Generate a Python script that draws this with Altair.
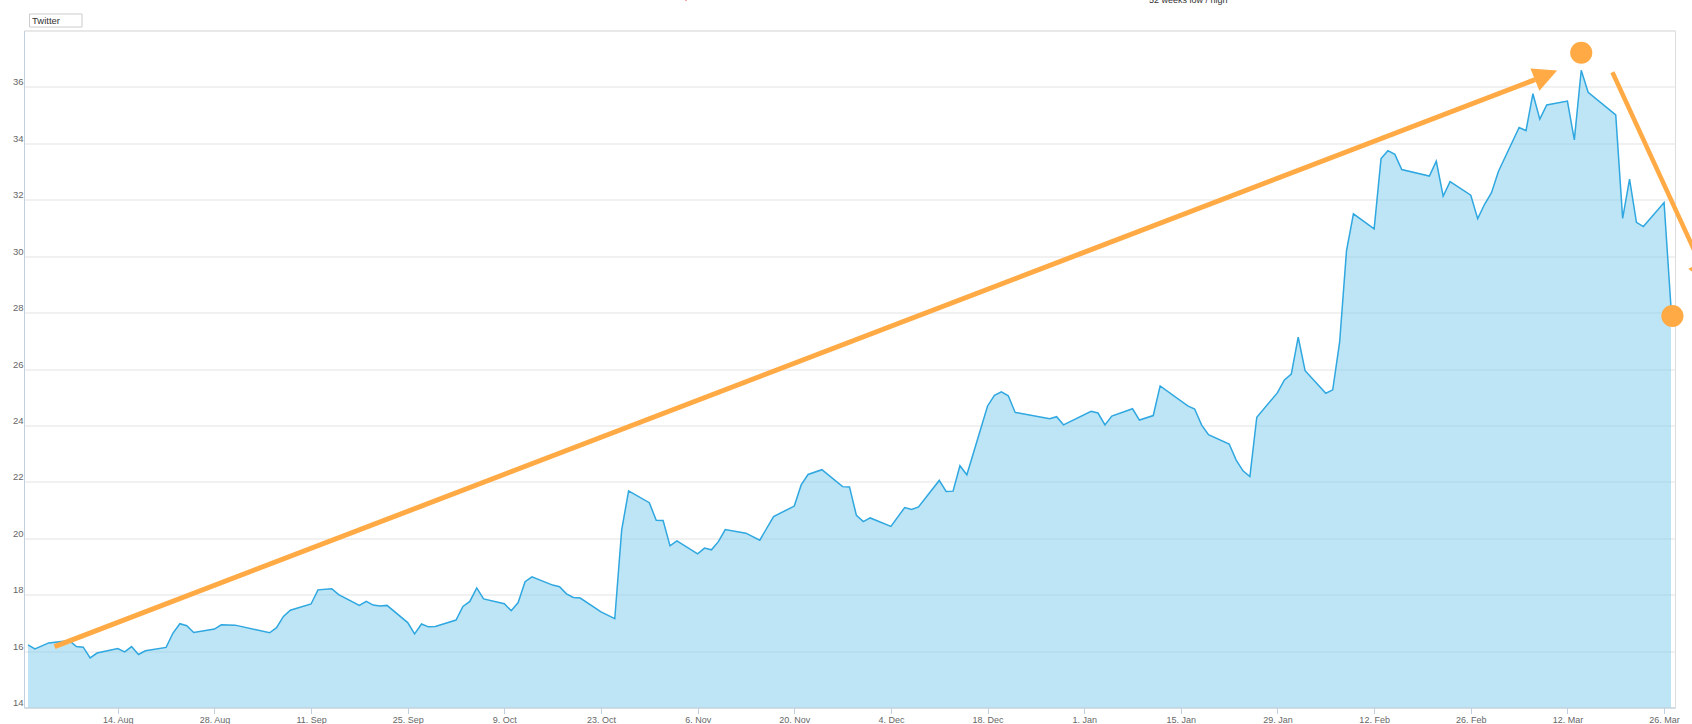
import altair as alt
import pandas as pd

# ---- data (Twitter share price) ----
dates = [
    "2017-08-01", "2017-08-02", "2017-08-04", "2017-08-07", "2017-08-08", "2017-08-09",
    "2017-08-10", "2017-08-11", "2017-08-14", "2017-08-15", "2017-08-16", "2017-08-17",
    "2017-08-18", "2017-08-21", "2017-08-22", "2017-08-23", "2017-08-24", "2017-08-25",
    "2017-08-28", "2017-08-29", "2017-08-31", "2017-09-05", "2017-09-06", "2017-09-07",
    "2017-09-08", "2017-09-11", "2017-09-12", "2017-09-14", "2017-09-15", "2017-09-18",
    "2017-09-19", "2017-09-20", "2017-09-21", "2017-09-22", "2017-09-25", "2017-09-26",
    "2017-09-27", "2017-09-28", "2017-09-29", "2017-10-02", "2017-10-03", "2017-10-04",
    "2017-10-05", "2017-10-06", "2017-10-09", "2017-10-10", "2017-10-11", "2017-10-12",
    "2017-10-13", "2017-10-16", "2017-10-17", "2017-10-18", "2017-10-19", "2017-10-20",
    "2017-10-23", "2017-10-25", "2017-10-26", "2017-10-27", "2017-10-30", "2017-10-31",
    "2017-11-01", "2017-11-02", "2017-11-03", "2017-11-06", "2017-11-07", "2017-11-08",
    "2017-11-09", "2017-11-10", "2017-11-13", "2017-11-15", "2017-11-17", "2017-11-20",
    "2017-11-21", "2017-11-22", "2017-11-24", "2017-11-27", "2017-11-28", "2017-11-29",
    "2017-11-30", "2017-12-01", "2017-12-04", "2017-12-06", "2017-12-07", "2017-12-08",
    "2017-12-11", "2017-12-12", "2017-12-13", "2017-12-14", "2017-12-15", "2017-12-18",
    "2017-12-19", "2017-12-20", "2017-12-21", "2017-12-22", "2017-12-27", "2017-12-28",
    "2017-12-29", "2018-01-02", "2018-01-03", "2018-01-04", "2018-01-05", "2018-01-08",
    "2018-01-09", "2018-01-11", "2018-01-12", "2018-01-16", "2018-01-17", "2018-01-18",
    "2018-01-19", "2018-01-22", "2018-01-23", "2018-01-24", "2018-01-25", "2018-01-26",
    "2018-01-29", "2018-01-30", "2018-01-31", "2018-02-01", "2018-02-02", "2018-02-05",
    "2018-02-06", "2018-02-07", "2018-02-08", "2018-02-09", "2018-02-12", "2018-02-13",
    "2018-02-14", "2018-02-15", "2018-02-16", "2018-02-20", "2018-02-21", "2018-02-22",
    "2018-02-23", "2018-02-26", "2018-02-27", "2018-02-28", "2018-03-01", "2018-03-02",
    "2018-03-05", "2018-03-06", "2018-03-07", "2018-03-08", "2018-03-09", "2018-03-12",
    "2018-03-13", "2018-03-14", "2018-03-15", "2018-03-19", "2018-03-20", "2018-03-21",
    "2018-03-22", "2018-03-23", "2018-03-26", "2018-03-27",
]
price = [
    16.22, 16.08, 16.29, 16.37, 16.16, 16.14,
    15.76, 15.93, 16.09, 15.97, 16.16, 15.88,
    16.01, 16.13, 16.64, 16.97, 16.90, 16.66,
    16.78, 16.93, 16.92, 16.65, 16.83, 17.23,
    17.45, 17.67, 18.17, 18.21, 18.00, 17.62,
    17.76, 17.63, 17.60, 17.62, 17.01, 16.61,
    16.96, 16.86, 16.87, 17.10, 17.58, 17.76,
    18.24, 17.85, 17.68, 17.43, 17.72, 18.46,
    18.63, 18.34, 18.28, 18.03, 17.90, 17.88,
    17.39, 17.15, 20.30, 21.68, 21.26, 20.64,
    20.63, 19.73, 19.91, 19.45, 19.65, 19.59,
    19.88, 20.31, 20.18, 19.93, 20.77, 21.14,
    21.89, 22.26, 22.43, 21.83, 21.82, 20.81,
    20.59, 20.72, 20.42, 21.09, 21.02, 21.11,
    22.05, 21.66, 21.67, 22.57, 22.25, 24.69,
    25.07, 25.19, 25.05, 24.46, 24.24, 24.31,
    24.02, 24.50, 24.44, 24.02, 24.33, 24.59,
    24.19, 24.35, 25.40, 24.69, 24.58, 24.02,
    23.67, 23.34, 22.78, 22.39, 22.19, 24.29,
    25.16, 25.61, 25.82, 27.13, 25.94, 25.14,
    25.26, 26.95, 30.20, 31.50, 30.97, 33.46,
    33.74, 33.61, 33.07, 32.84, 33.37, 32.13,
    32.64, 32.16, 31.33, 31.84, 32.25, 33.00,
    34.56, 34.45, 35.76, 34.86, 35.36, 35.50,
    34.12, 36.59, 35.81, 35.01, 31.34, 32.73,
    31.20, 31.05, 31.90, 28.20,
]

x_tick_dates = [
    "2017-08-14", "2017-08-28", "2017-09-11", "2017-09-25", "2017-10-09", "2017-10-23",
    "2017-11-06", "2017-11-20", "2017-12-04", "2017-12-18", "2018-01-01", "2018-01-15",
    "2018-01-29", "2018-02-12", "2018-02-26", "2018-03-12", "2018-03-26",
]
y_ticks = [14, 16, 18, 20, 22, 24, 26, 28, 30, 32, 34, 36, 38]

legend_label = ["Twitter"]
top_label = ["52 weeks low / high"]

# hand-drawn orange annotations (in data space)
arrow_x1 = ["2017-08-04T20:10", "2018-03-18T12:29"]
arrow_y1 = [16.16, 36.52]
arrow_x2 = ["2018-03-07T07:40", "2018-03-31T08:24"]
arrow_y2 = [36.26, 29.69]
arrow_w = [5, 4.5]
head_x = ["2018-03-08T21:36", "2018-03-31T19:12"]
head_y = [36.42, 29.34]
head_angle = [338, 66]
dot_x = ["2018-03-14T00:00", "2018-03-27T05:00"]
dot_y = [37.21, 27.88]

ORANGE = "#FFAA44"
FONT = "Liberation Sans"

series = pd.DataFrame({"date": pd.to_datetime(dates), "price": price})
arrows = pd.DataFrame({
    "x1": pd.to_datetime(arrow_x1), "y1": arrow_y1,
    "x2": pd.to_datetime(arrow_x2), "y2": arrow_y2, "w": arrow_w,
})
heads = pd.DataFrame({"x": pd.to_datetime(head_x), "y": head_y, "a": head_angle})
dots = pd.DataFrame({"x": pd.to_datetime(dot_x), "y": dot_y})
legend_df = pd.DataFrame({"label": legend_label})
top_df = pd.DataFrame({"label": top_label})


def dt(s):
    y, m, d = (int(p) for p in s[:10].split("-"))
    h = int(s[11:13]) if len(s) > 10 else 0
    return alt.DateTime(year=y, month=m, date=d, hours=h)


x_scale = alt.Scale(domain=[dt("2017-07-31T10"), dt("2018-03-27T14")])
y_scale = alt.Scale(domain=[14, 38], zero=False, nice=False)

x_axis = alt.Axis(
    values=[dt(s) for s in x_tick_dates], format="%-d. %b", title=None,
    grid=False, labelFontSize=9, labelColor="#666666", labelFont=FONT,
    tickColor="#C0D0E0", tickSize=6, domainColor="#C0D0E0", labelPadding=2,
    labelFlush=False, labelOverlap=False,
)
y_axis = alt.Axis(
    values=y_ticks, title=None, labelExpr="datum.value == 38 ? '' : datum.label",
    ticks=False, tickSize=0, labelPadding=1, labelFontSize=9.5, labelFont=FONT,
    labelColor="#666666", domainColor="#C0D0E0", gridColor="#E3E3E3",
    labelBaseline="alphabetic", labelOffset=-2, labelFlush=False,
)

area = alt.Chart(series).mark_area(color="#7BCBEB", fillOpacity=0.5, clip=True).encode(
    x=alt.X("date:T", scale=x_scale, axis=x_axis),
    y=alt.Y("price:Q", scale=y_scale, axis=y_axis),
)
line = alt.Chart(series).mark_line(color="#2FA7E0", strokeWidth=1.5, clip=True).encode(
    x="date:T", y="price:Q"
)
shafts = alt.Chart(arrows).mark_rule(color=ORANGE, strokeCap="butt", clip=False).encode(
    x="x1:T", y="y1:Q", x2="x2:T", y2="y2:Q",
    strokeWidth=alt.StrokeWidth("w:Q", scale=None),
)
arrowheads = alt.Chart(heads).mark_point(
    shape="M-1,-1L1,0L-1,1Z", filled=True, size=576, color=ORANGE, opacity=1, clip=False
).encode(x="x:T", y="y:Q", angle=alt.Angle("a:Q", scale=None))
circles = alt.Chart(dots).mark_circle(size=490, color=ORANGE, opacity=1, clip=False).encode(
    x="x:T", y="y:Q"
)

legend_box = alt.Chart(legend_df).mark_rect(
    fill="white", stroke="#CCCCCC", strokeWidth=1
).encode(x=alt.value(5.5), x2=alt.value(58), y=alt.value(-16.5), y2=alt.value(-3.5))
legend_text = alt.Chart(legend_df).mark_text(
    align="left", baseline="middle", fontSize=9.5, font=FONT, color="#333333"
).encode(x=alt.value(8), y=alt.value(-9.5), text="label:N")

# label of the page above the chart, cut off by the top edge of the screenshot
top_text = alt.Chart(top_df).mark_text(
    align="left", baseline="alphabetic", fontSize=9, font=FONT, color="#333333"
).encode(x=alt.value(1125), y=alt.value(-27.5), text="label:N")
top_marker = alt.Chart(top_df).mark_point(
    shape="triangle-down", filled=True, size=40, color="#E8302A", opacity=1
).encode(x=alt.value(662), y=alt.value(-32))

chart = alt.layer(
    area, line, shafts, arrowheads, circles, legend_box, legend_text, top_text, top_marker
).properties(
    width=1651, height=677,
    autosize=alt.AutoSizeParams(type="none"),
    padding={"left": 24, "top": 30.5, "right": 17, "bottom": 16.5},
).configure_view(stroke=None).configure(background="white")

chart.save("out.html", embed_options={"renderer": "svg", "actions": False})
